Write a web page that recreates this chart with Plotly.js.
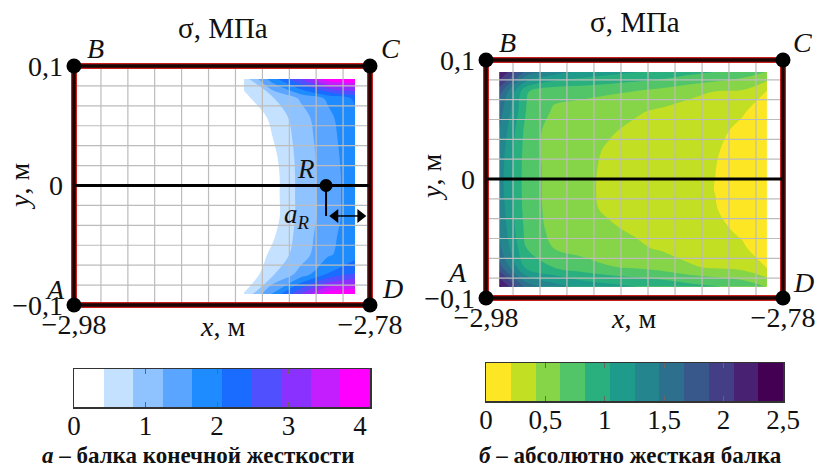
<!DOCTYPE html>
<html><head><meta charset="utf-8">
<script src="https://cdn.plot.ly/plotly-3.0.1.min.js"></script>
<style>html,body{margin:0;padding:0;background:#fff}#c{width:817px;height:469px}</style>
</head><body><div id="c"></div>
<script>
// ---- data ----
const leftX = [-2.8651,-2.8462,-2.8273,-2.8084,-2.7901];
const leftY = [0.0891,0.0728,0.0565,0.0402,0.0238,0.0075,-0.0088,-0.0251,-0.0414,-0.0577,-0.0741,-0.0908];
const leftZ = [
 [0.60,1.85,2.88,4.00,4.14],
 [0.30,0.76,1.28,1.72,2.13],
 [0.00,0.50,1.06,1.55,2.00],
 [0.00,0.40,1.00,1.50,1.95],
 [0.00,0.28,0.97,1.46,1.92],
 [0.00,0.21,0.96,1.43,1.90],
 [0.00,0.21,0.96,1.43,1.90],
 [0.00,0.20,0.96,1.43,1.90],
 [0.00,0.33,0.99,1.50,1.95],
 [0.00,0.50,1.03,1.60,1.90],
 [0.00,0.75,1.38,2.10,2.50],
 [0.45,1.68,2.88,4.00,4.14]
];
const rightX = [-2.9709,-2.9527,-2.9345,-2.9164,-2.8982,-2.88,-2.8618,-2.8436,-2.8255,-2.8073,-2.7908];
const rightY = [0.0899,0.0735,0.0571,0.0407,0.0243,0.0079,-0.0085,-0.0249,-0.0413,-0.0577,-0.0741,-0.0905];
const rightZ = [
 [2.30,1.60,1.35,1.20,1.12,1.05,1.00,0.90,0.83,0.73,0.62],
 [1.75,0.85,0.68,0.68,0.65,0.62,0.55,0.47,0.41,0.39,0.19],
 [1.55,0.82,0.60,0.55,0.52,0.44,0.39,0.34,0.31,0.23,0.11],
 [1.45,0.75,0.53,0.50,0.44,0.38,0.34,0.30,0.26,0.16,0.10],
 [1.38,0.73,0.53,0.48,0.40,0.36,0.33,0.27,0.225,0.13,0.10],
 [1.35,0.72,0.55,0.46,0.39,0.35,0.31,0.26,0.21,0.12,0.10],
 [1.35,0.72,0.55,0.46,0.385,0.35,0.31,0.26,0.205,0.12,0.10],
 [1.38,0.73,0.55,0.46,0.395,0.36,0.32,0.27,0.215,0.13,0.10],
 [1.42,0.76,0.56,0.49,0.44,0.39,0.34,0.30,0.25,0.17,0.10],
 [1.50,0.83,0.62,0.55,0.50,0.45,0.39,0.34,0.29,0.23,0.11],
 [1.75,0.97,0.83,0.72,0.64,0.60,0.54,0.44,0.39,0.35,0.19],
 [2.35,1.60,1.35,1.20,1.12,1.05,1.00,0.92,0.85,0.77,0.62]
];
const leftBandColors = ['#ffffff','#c4e1ff','#8fc3ff','#59a5ff','#1e8cff','#1a6bff','#5050ff','#8a30ff','#c41eff','#ff00ff'];
const rightBandColors = ['#fde725','#c2df23','#86d549','#52c569','#2ab07f','#1e9b8a','#25858e','#2d708e','#38588c','#433e85','#482173','#440154'];
const leftBandEdges = [0,0.414,0.828,1.242,1.656,2.07,2.484,2.898,3.312,3.726,4.14];
const rightBandEdges = [0,0.2083,0.4167,0.625,0.8333,1.0417,1.25,1.4583,1.6667,1.875,2.0833,2.2917,2.5];
const leftBarTicks = [0,1,2,3,4];
const leftBarLabels = ['0','1','2','3','4'];
const rightBarTicks = [0,0.5,1,1.5,2,2.5];
const rightBarLabels = ['0','0,5','1','1,5','2','2,5'];
const gridXs = [-2.98,-2.9618,-2.9436,-2.9255,-2.9073,-2.8891,-2.8709,-2.8527,-2.8345,-2.8164,-2.7982,-2.78];
const gridYs = [0.1,0.0833,0.0667,0.05,0.0333,0.0167,0,-0.0167,-0.0333,-0.05,-0.0667,-0.0833,-0.1];
const cornersX = [-2.98,-2.98,-2.78,-2.78];
const cornersY = [-0.1,0.1,0.1,-0.1];
const xTicks = [-2.98,-2.78], xTickLabels = ['\u22122,98','\u22122,78'];
const yTicks = [-0.1,0,0.1], yTickLabels = ['\u22120,1','0','0,1'];
const beamX = [-2.98,-2.78], beamY = [0,0];
const pointR = {x:-2.8097,y:0};
const aRBottom = -0.0255, aRFrom = -2.8035, aRTo = -2.7865;

// ---- layout helpers ----
const W=817,H=469, FONT='Liberation Serif, serif', BLACK='#111';
const PAD=8; // axes extend a few pixels past the beam so the frame is not clipped
const dx=(a,b)=>[(a-PAD)/W,(b+PAD)/W], dy=(t,b)=>[1-(b+PAD)/H,1-(t-PAD)/H];
const dxb=(a,b)=>[a/W,b/W], dyb=(t,b)=>[1-b/H,1-t/H];
const px=v=>v/W, py=v=>1-v/H;
function stepped(cols){const s=[];const n=cols.length;cols.forEach((c,i)=>{s.push([i/n,c]);s.push([(i+1)/n,c]);});return s;}
function gridTrace(xa,ya){
  const x=[],y=[];
  gridXs.forEach(v=>{x.push(v,v,null);y.push(-0.1,0.1,null);});
  gridYs.forEach(v=>{x.push(-2.98,-2.78,null);y.push(v,v,null);});
  return {type:'scatter',mode:'lines',x,y,xaxis:xa,yaxis:ya,line:{color:'#bcbcbc',width:1.2},hoverinfo:'skip',showlegend:false};
}
function frameTraces(xa,ya){
  const fx=cornersX.concat([cornersX[0]]), fy=cornersY.concat([cornersY[0]]);
  return [
   {type:'scatter',mode:'lines',x:fx,y:fy,xaxis:xa,yaxis:ya,line:{color:'#c8201c',width:6},hoverinfo:'skip'},
   {type:'scatter',mode:'lines',x:beamX,y:beamY,xaxis:xa,yaxis:ya,line:{color:'#000',width:3},hoverinfo:'skip'},
   {type:'scatter',mode:'lines',x:fx,y:fy,xaxis:xa,yaxis:ya,line:{color:'#1a0505',width:3.5},hoverinfo:'skip'},
   {type:'scatter',mode:'markers',x:cornersX,y:cornersY,xaxis:xa,yaxis:ya,marker:{color:'#000',size:15},cliponaxis:false,hoverinfo:'skip'}
  ];
}
function contourTrace(x,y,z,edges,cols,xa,ya){
  const size=edges[1]-edges[0];
  return {type:'contour',x,y,z,xaxis:xa,yaxis:ya,autocontour:false,
    contours:{start:edges[1],end:edges[edges.length-2],size,coloring:'fill',showlines:false},
    line:{width:0},colorscale:stepped(cols),zauto:false,zmin:edges[0],zmax:edges[edges.length-1],showscale:false,hoverinfo:'skip'};
}
function barTrace(edges,cols,xa,ya){
  const mids=edges.slice(1).map((e,i)=>(e+edges[i])/2);
  return {type:'heatmap',x:edges,y:[0,1],z:[mids],xaxis:xa,yaxis:ya,colorscale:stepped(cols),
    zauto:false,zmin:edges[0],zmax:edges[edges.length-1],showscale:false,hoverinfo:'skip'};
}
const tickFont={family:FONT,size:28,color:BLACK};
function mainX(dom,anchor,standoff,w){const p=0.2/w*PAD;return {domain:dom,anchor,range:[-2.98-p,-2.78+p],showgrid:false,zeroline:false,showline:false,ticks:'',tickmode:'array',tickvals:xTicks,ticktext:xTickLabels,tickfont:tickFont,ticklabelstandoff:standoff,fixedrange:true};}
function mainY(dom,anchor,standoff,h){const p=0.2/h*PAD;return {domain:dom,anchor,range:[-0.1-p,0.1+p],showgrid:false,zeroline:false,showline:false,ticks:'',tickmode:'array',tickvals:yTicks,ticktext:yTickLabels,tickfont:tickFont,ticklabelstandoff:standoff,fixedrange:true};}
function barX(dom,anchor,range,vals,labels){return {domain:dom,anchor,range,showgrid:false,zeroline:false,showline:true,mirror:'ticks',linecolor:'#333',linewidth:1.5,ticks:'inside',ticklen:5,tickwidth:1,tickcolor:'#666',tickmode:'array',tickvals:vals,ticktext:labels,tickfont:{family:FONT,size:27,color:BLACK},ticklabelstandoff:-6,fixedrange:true};}
function barY(dom,anchor){return {domain:dom,anchor,range:[0,1],showgrid:false,zeroline:false,showline:true,mirror:true,linecolor:'#333',linewidth:1.5,ticks:'',showticklabels:false,fixedrange:true};}

const traces=[
  contourTrace(leftX,leftY,leftZ,leftBandEdges,leftBandColors,'x','y'),
  gridTrace('x','y'),
  ...frameTraces('x','y'),
  {type:'scatter',mode:'lines',x:[pointR.x,pointR.x],y:[pointR.y,aRBottom],xaxis:'x',yaxis:'y',line:{color:'#000',width:2},hoverinfo:'skip'},
  {type:'scatter',mode:'markers',x:[pointR.x],y:[pointR.y],xaxis:'x',yaxis:'y',marker:{color:'#000',size:13},hoverinfo:'skip'},
  {type:'scatter',mode:'lines+markers',x:[aRFrom,aRTo],y:[aRBottom,aRBottom],xaxis:'x',yaxis:'y',line:{color:'#000',width:1.5},marker:{color:'#000',size:12,symbol:['triangle-left','triangle-right']},hoverinfo:'skip'},
  contourTrace(rightX,rightY,rightZ,rightBandEdges,rightBandColors,'x2','y2'),
  gridTrace('x2','y2'),
  ...frameTraces('x2','y2'),
  barTrace(leftBandEdges,leftBandColors,'x3','y3'),
  barTrace(rightBandEdges,rightBandColors,'x4','y4')
];

function lab(text,x,y,size,opts){return Object.assign({xref:'paper',yref:'paper',x:px(x),y:py(y),text,showarrow:false,xanchor:'center',yanchor:'middle',font:{family:FONT,size:size||25,color:BLACK}},opts||{});}
const annotations=[
  lab('σ, МПа',223,28,29), lab('σ, МПа',635,22,29),
  lab('<i>B</i>',95,48,28), lab('<i>C</i>',390,48,28), lab('<i>A</i>',55,289,28), lab('<i>D</i>',392,288,28),
  lab('<i>B</i>',507,42,28), lab('<i>C</i>',802,42,28), lab('<i>A</i>',457,272,28), lab('<i>D</i>',803,282,28),
  lab('<i>R</i>',306,169,27), lab('<i>a<sub>R</sub></i>',297,216,27),
  lab('<i>x</i>, м',222,326,28), lab('<i>x</i>, м',633,318,28),
  lab('<i>y</i>, м',20,187,28,{textangle:-90}), lab('<i>y</i>, м',431,178,28,{textangle:-90}),
  lab('<b><i>а</i> – балка конечной жесткости</b>',198,455,23), lab('<b><i>б</i> – абсолютно жесткая балка</b>',630,455,23)
];

const layout={width:W,height:H,margin:{l:0,r:0,t:0,b:0},paper_bgcolor:'#fff',plot_bgcolor:'rgba(0,0,0,0)',showlegend:false,hovermode:false,
  xaxis:mainX(dx(74,370),'y',-8,296), yaxis:mainY(dy(66,305),'x',2,239),
  xaxis2:mainX(dx(486,783),'y2',-8,297), yaxis2:mainY(dy(60,298),'x2',2,238),
  xaxis3:barX(dxb(74,370),'y3',[0,4.14],leftBarTicks,leftBarLabels), yaxis3:barY(dyb(369,407),'x3'),
  xaxis4:barX(dxb(486,783),'y4',[0,2.5],rightBarTicks,rightBarLabels), yaxis4:barY(dyb(363,401),'x4'),
  annotations};
Plotly.newPlot('c',traces,layout,{displayModeBar:false,staticPlot:true});
</script></body></html>
